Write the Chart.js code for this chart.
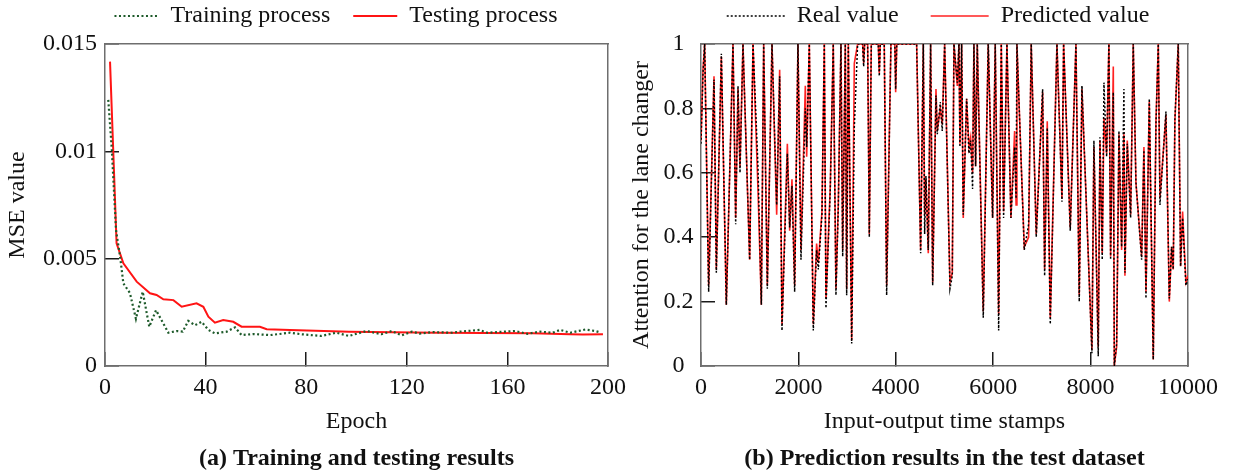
<!DOCTYPE html>
<html>
<head>
<meta charset="utf-8">
<title>Training curves and test predictions</title>
<script src="https://cdn.jsdelivr.net/npm/chart.js@4.4.1/dist/chart.umd.min.js"></script>
<style>
  html, body { margin: 0; padding: 0; background: #fff; overflow: hidden; }
  #wrap { position: relative; width: 1239px; height: 476px; overflow: hidden; }
  canvas { position: absolute; }
  #mse { left: 0; top: -19px; }
  #pred { left: 620px; top: -28px; }
</style>
</head>
<body>
<div id="wrap">
  <canvas id="mse" width="672" height="495"></canvas>
  <canvas id="pred" width="636" height="504"></canvas>
</div>
<script>
// ---- (a) training / testing loss ----
const trainEpoch = [1.3, 2.7, 4.4, 6, 7.3, 9.9, 12.3, 15, 17.6, 20.3, 25.2, 28.5, 30.9, 33.1, 35.8, 38.4,
  41.1, 43.7, 48.4, 51.7, 54.3, 59, 65.6, 73.6, 78, 86, 92, 97, 104, 110, 114, 118, 122, 125, 130, 138,
  141, 149, 152, 163, 168, 173, 178, 181, 185, 191, 195, 197];
const trainMse = [0.0124, 0.0101, 0.0063, 0.0051, 0.00385, 0.0034, 0.0022, 0.00346, 0.00183, 0.0026,
  0.00155, 0.00163, 0.0016, 0.0021, 0.0019, 0.00206, 0.00168, 0.00152, 0.0016, 0.0018, 0.00144, 0.00149,
  0.00144, 0.00155, 0.00148, 0.0014, 0.00155, 0.0014, 0.00163, 0.00148, 0.00163, 0.00143, 0.0016, 0.00151,
  0.00158, 0.00155, 0.0016, 0.00168, 0.00155, 0.00163, 0.0015, 0.0016, 0.00155, 0.00168, 0.00155, 0.0017,
  0.00163, 0.00156];
const testEpoch = [2, 4.6, 7.3, 12.6, 17.9, 20.5, 23.2, 27.2, 30.5, 36.4, 39.1, 41.1, 43.7, 47, 51, 54.3,
  61.6, 64.3, 73.6, 97, 132, 170, 185, 190, 198];
const testMse = [0.01418, 0.00572, 0.00478, 0.00393, 0.00339, 0.00331, 0.00311, 0.00307, 0.00276, 0.00292,
  0.00276, 0.0023, 0.00202, 0.00214, 0.00206, 0.00183, 0.00183, 0.00171, 0.00168, 0.0016, 0.00155, 0.00152,
  0.00148, 0.00147, 0.00148];
const epochTicks = [0, 40, 80, 120, 160, 200];
const epochLabels = ['0', '40', '80', '120', '160', '200'];
const mseTicks = [0, 0.005, 0.01, 0.015];
const mseLabels = ['0', '0.005', '0.01', '0.015'];

// ---- (b) attention on the test set ----
const stamps = [0, 41, 75, 157, 267, 315, 418, 520, 657, 712, 760, 801, 862, 999, 1068, 1170, 1239, 1287,
  1362, 1458, 1554, 1615, 1663, 1773, 1821, 1868, 1923, 1991,
  2053, 2142, 2170, 2224, 2306, 2374, 2409, 2484, 2532, 2566, 2655, 2716, 2771, 2819, 2874, 2909, 2963,
  2991, 3025, 3094, 3148, 3216, 3319, 3340, 3360, 3422, 3456, 3497, 3640, 3661, 3681, 3763, 3812, 3900,
  3980, 3997, 4020,
  4428, 4510, 4565, 4592, 4619, 4667, 4715, 4757, 4825, 4852, 4913, 4954, 5003, 5112, 5160, 5194, 5263,
  5297, 5317, 5352, 5385, 5454, 5502, 5536, 5577, 5604, 5639, 5673, 5796, 5898, 5988,
  6042, 6112, 6166, 6214, 6282, 6364, 6440, 6470, 6487, 6638, 6727, 6781, 6884, 7015, 7056, 7110, 7172,
  7309, 7412, 7446, 7582, 7699, 7767, 7822, 8027,
  8068, 8157, 8192, 8239, 8274, 8329, 8376, 8411, 8466, 8487, 8535, 8582, 8637, 8684, 8705, 8753, 8822,
  8876, 8931, 9048, 9095, 9137, 9205, 9287, 9342, 9390, 9424, 9547, 9616, 9663, 9697, 9731, 9800, 9848,
  9889, 9957, 10000];
const realValue = [0.69, 0.91, 1, 0.23, 0.89, 0.29, 0.97, 0.19, 1, 0.44, 0.87, 0.60, 1, 0.33, 1, 0.62, 0.19, 1,
  0.24, 1, 0.50, 0.90, 0.11, 0.66, 0.43, 0.56, 0.23, 1,
  0.33, 0.80, 0.68, 1, 0.11, 0.36, 0.30, 0.47, 1, 0.18, 0.55, 1, 0.22, 0.49, 1, 0.34, 1,
  0.22, 1, 0.07, 0.74, 1, 1, 0.93, 1, 1, 0.40, 1, 1, 0.90, 1, 1, 0.22, 1,
  1, 0.86, 1,
  1, 0.35, 1, 0.41, 0.59, 0.36, 1, 0.25, 0.84, 0.72, 0.82, 0.73, 1, 0.24, 0.28, 1, 0.88,
  1, 0.68, 1, 0.47, 0.83, 0.66, 0.70, 0.55, 1, 0.62, 1, 0.15, 1, 0.46,
  1, 0.11, 1, 0.46, 1, 0.46, 0.68, 0.52, 1, 0.36, 0.44, 1, 0.40, 0.86, 0.28, 0.74, 0.13,
  1, 0.51, 1, 0.42, 1, 0.20, 0.87, 0.04,
  0.70, 0.03, 0.71, 0.33, 0.88, 0.65, 1, 0.33, 0.85, 0, 0.07, 0.73, 0.37, 0.86, 0.29, 0.69, 0.46,
  1, 0.57, 0.33, 0.67, 0.21, 0.83, 0.02, 0.75, 1, 0.50, 0.79, 0.21, 0.37, 0.30, 0.77, 1, 0.31,
  0.46, 0.25, 0.27];
const predictedValue = [0.70, 0.92, 1, 0.25, 0.90, 0.30, 0.96, 0.19, 1, 0.46, 0.86, 0.62, 1, 0.33, 1, 0.55, 0.19, 1,
  0.25, 1, 0.47, 0.92, 0.13, 0.69, 0.42, 0.58, 0.25, 1,
  0.36, 0.87, 0.65, 1, 0.13, 0.38, 0.32, 0.48, 1, 0.21, 0.56, 1, 0.24, 0.50, 1, 0.36, 1,
  0.24, 1, 0.08, 0.94, 1, 1, 0.94, 1, 1, 0.41, 1, 1, 0.91, 1, 1, 0.25, 1,
  1, 0.85, 1,
  1, 0.36, 1, 0.47, 0.58, 0.35, 1, 0.26, 0.86, 0.73, 0.80, 0.75, 1, 0.26, 0.29, 1, 0.87,
  1, 0.69, 1, 0.46, 0.83, 0.68, 0.71, 0.60, 1, 0.62, 1, 0.17, 1, 0.46,
  1, 0.16, 1, 0.48, 1, 0.46, 0.73, 0.50, 1, 0.37, 0.40, 1, 0.41, 0.85, 0.30, 0.76, 0.15,
  1, 0.52, 1, 0.43, 1, 0.22, 0.86, 0.05,
  0.68, 0.06, 0.70, 0.35, 0.77, 0.66, 1, 0.34, 0.93, 0, 0.06, 0.72, 0.36, 0.72, 0.28, 0.70, 0.47,
  1, 0.57, 0.34, 0.68, 0.23, 0.82, 0.02, 0.76, 1, 0.52, 0.78, 0.20, 0.37, 0.30, 0.76, 1, 0.31,
  0.48, 0.26, 0.28];
const stampTicks = [0, 2000, 4000, 6000, 8000, 10000];
const stampLabels = ['0', '2000', '4000', '6000', '8000', '10000'];
const attnTicks = [0, 0.2, 0.4, 0.6, 0.8, 1];
const attnLabels = ['0', '0.2', '0.4', '0.6', '0.8', '1'];

Chart.defaults.font.family = "'Liberation Serif', 'Times New Roman', serif";
Chart.defaults.font.size = 24;
Chart.defaults.color = '#111';

const FRAME = '#6e6e6e';
const TICK = '#1a1a1a';

const pts = (xs, ys) => xs.map((x, i) => ({ x, y: ys[i] }));

// plain line on the top / right side so the plot gets a closed box
function frameAxis(position, size) {
  return {
    type: 'linear', position,
    grid: { display: false, drawTicks: false },
    ticks: { display: false },
    border: { display: true, color: FRAME, width: 1.5 },
    afterFit: s => { if (s.isHorizontal()) s.height = size; else s.width = size; }
  };
}

// extra bottom axis that only carries the panel caption
function captionAxis(text) {
  return {
    type: 'linear', position: 'bottom', weight: 1,
    grid: { display: false, drawTicks: false },
    ticks: { display: false },
    border: { display: false },
    title: { display: true, text, font: { size: 24, weight: 'bold' }, padding: { top: 0, bottom: 3 } },
    afterFit: s => { s.height = 38; }
  };
}

function xAxis(min, max, tickVals, tickLabels, title) {
  return {
    type: 'linear', position: 'bottom', min, max,
    afterBuildTicks: s => { s.ticks = tickVals.map(v => ({ value: v })); },
    ticks: { padding: 21, autoSkip: false, maxRotation: 0, callback: (v, i) => tickLabels[i] },
    grid: { display: true, drawOnChartArea: false, drawTicks: true, tickLength: -14, color: TICK, lineWidth: 1.5 },
    border: { display: true, color: FRAME, width: 1.5 },
    title: { display: true, text: title, padding: { top: 0, bottom: 2 } },
    afterFit: s => { s.height = 72; }
  };
}

function yAxis(min, max, tickVals, tickLabels, title, width, titlePad, crossAlign, pad) {
  return {
    type: 'linear', position: 'left', min, max,
    afterBuildTicks: s => { s.ticks = tickVals.map(v => ({ value: v })); },
    ticks: { padding: pad, crossAlign, callback: (v, i) => tickLabels[i] },
    grid: { display: true, drawOnChartArea: false, drawTicks: true, tickLength: -14, color: TICK, lineWidth: 1.5 },
    border: { display: true, color: FRAME, width: 1.5 },
    title: { display: true, text: title, padding: { top: titlePad, bottom: 0 } },
    afterFit: s => { s.width = width; }
  };
}

// legend samples are drawn as short lines carrying each dataset's own dash pattern
function legend(sampleWidth, gap) {
  return {
    position: 'top',
    labels: {
      usePointStyle: true, pointStyle: 'line', pointStyleWidth: sampleWidth, padding: gap, color: '#111',
      generateLabels: chart => Chart.defaults.plugins.legend.labels.generateLabels(chart).map(item => {
        const ds = chart.data.datasets[item.datasetIndex];
        return Object.assign(item, { lineDash: ds.borderDash || [], lineWidth: ds.borderWidth, strokeStyle: ds.borderColor });
      })
    }
  };
}

new Chart(document.getElementById('mse'), {
  type: 'line',
  data: {
    datasets: [
      { label: 'Training process', data: pts(trainEpoch, trainMse), borderColor: '#1d5a2a',
        backgroundColor: '#1d5a2a', borderWidth: 2.2, borderDash: [2, 2.5] },
      { label: 'Testing process', data: pts(testEpoch, testMse), borderColor: '#ff1414',
        backgroundColor: '#ff1414', borderWidth: 2 }
    ]
  },
  options: {
    responsive: false, animation: false, events: [],
    elements: { point: { radius: 0 }, line: { tension: 0 } },
    layout: { padding: 0 },
    plugins: { legend: legend(44, 23), tooltip: { enabled: false } },
    scales: {
      x: xAxis(0, 200, epochTicks, epochLabels, 'Epoch'),
      y: yAxis(0, 0.015, mseTicks, mseLabels, 'MSE value', 105, 3.6, 'near', 22),
      top: frameAxis('top', 6),
      right: frameAxis('right', 64),
      cap: captionAxis('(a) Training and testing results')
    }
  }
});

new Chart(document.getElementById('pred'), {
  type: 'line',
  data: {
    datasets: [
      { label: 'Real value', data: pts(stamps, realValue), borderColor: '#000',
        backgroundColor: '#000', borderWidth: 1.5, borderDash: [2, 2] },
      { label: 'Predicted value', data: pts(stamps, predictedValue), borderColor: '#ff2222',
        backgroundColor: '#ff2222', borderWidth: 1.6 }
    ]
  },
  options: {
    responsive: false, animation: false, events: [],
    elements: { point: { radius: 0 }, line: { tension: 0 } },
    layout: { padding: 0 },
    plugins: { legend: legend(58, 32), tooltip: { enabled: false } },
    scales: {
      x: xAxis(0, 10000, stampTicks, stampLabels, 'Input-output time stamps'),
      y: yAxis(0, 1, attnTicks, attnLabels, 'Attention for the lane changer', 81, 7.6, 'center', 21.5),
      top: frameAxis('top', 6),
      right: frameAxis('right', 68),
      cap: captionAxis('(b) Prediction results in the test dataset')
    }
  }
});
</script>
</body>
</html>
